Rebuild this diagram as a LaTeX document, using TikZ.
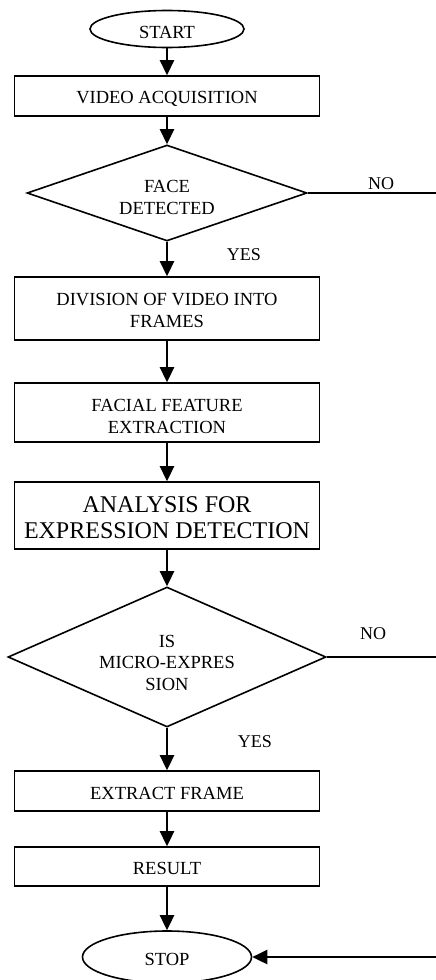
\documentclass[tikz,border=0pt]{standalone}
\usepackage{fontspec}
\setmainfont{Liberation Serif}
\usetikzlibrary{arrows.meta,shapes.geometric}
\newcommand{\toppad}[1]{\rule{0pt}{#1}}
\tikzset{
  base/.style={font=\fontsize{18.5}{22}\selectfont, inner sep=0pt, align=center},
  procbox/.style={base, draw, line width=1.6pt, minimum width=305pt},
  decision/.style={base, draw, diamond, line width=1.6pt},
  terminal/.style={base, draw, ellipse, line width=1.6pt},
  flow/.style={line width=2.6pt, -{Triangle[length=15pt,width=14pt]}},
  branch/.style={line width=1.6pt},
  lbl/.style={font=\fontsize{18}{20}\selectfont, inner sep=0pt},
}
\begin{document}
\begin{tikzpicture}[x=1pt,y=-1pt]
\useasboundingbox (0,0) rectangle (436,980);
\clip (0,0) rectangle (436,980);

% flow steps
\node[terminal, minimum width=154pt, minimum height=37pt] (start) at (167,29) {\toppad{19pt}START};
\node[procbox, minimum height=40pt] (acq) at (167,96) {\toppad{18pt}VIDEO ACQUISITION};
\node[decision, shape aspect=2.9, minimum width=280pt, minimum height=96pt] (face) at (167,193) {\toppad{21pt}FACE\\DETECTED};
\node[procbox, minimum height=63pt] (div) at (167,308.5) {\toppad{17pt}DIVISION OF VIDEO INTO\\FRAMES};
\node[procbox, minimum height=59pt] (feat) at (167,412.5) {\toppad{21pt}FACIAL FEATURE\\EXTRACTION};
\node[procbox, minimum height=67pt, font=\fontsize{24}{26}\selectfont] (anal) at (167,515.5) {\toppad{21pt}ANALYSIS FOR\\EXPRESSION DETECTION};
\node[decision, shape aspect=2.27, minimum width=318pt, minimum height=140pt, font=\fontsize{18.5}{21.5}\selectfont] (micro) at (167,657) {\toppad{24pt}IS\\MICRO-EXPRES\\SION};
\node[procbox, minimum height=40pt] (extr) at (167,791) {\toppad{16.5pt}EXTRACT FRAME};
\node[procbox, minimum height=39pt] (res) at (167,866.5) {\toppad{15.5pt}RESULT};
\node[terminal, minimum width=169pt, minimum height=52pt] (stop) at (167,957) {\toppad{18pt}STOP};

% branch labels
\node[lbl] (yes1) at (244,255) {YES};
\node[lbl] (no1) at (381,184) {NO};
\node[lbl] (no2) at (373,634) {NO};
\node[lbl] (yes2) at (255,742) {YES};

% free ends at the right edge
\coordinate (noA) at (436,193);
\coordinate (noB) at (436,657);
\coordinate (back) at (436,957);

% connectors
\draw[flow] (start.south) -- (acq.north);
\draw[flow] (acq.south) -- (face.north);
\draw[flow] (face.south) -- (div.north);
\draw[flow] (div.south) -- (feat.north);
\draw[flow] (feat.south) -- (anal.north);
\draw[flow] (anal.south) -- (micro.north);
\draw[flow] (micro.south) -- (extr.north);
\draw[flow] (extr.south) -- (res.north);
\draw[flow] (res.south) -- (stop.north);
\draw[branch] (face.east) -- (noA);
\draw[branch] (micro.east) -- (noB);
\draw[flow] (back) -- (stop.east);
\end{tikzpicture}
\end{document}
